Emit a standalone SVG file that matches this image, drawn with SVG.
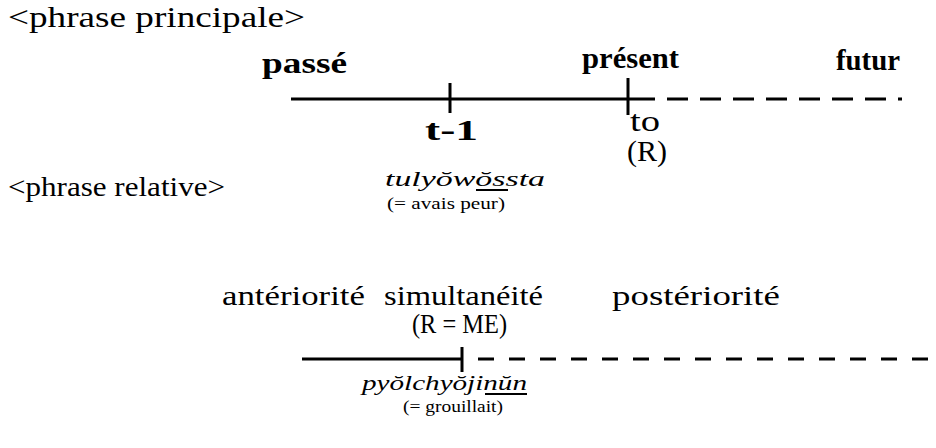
<svg xmlns="http://www.w3.org/2000/svg" width="936" height="448" viewBox="0 0 936 448">
<style>
text{font-family:'Liberation Serif','DejaVu Serif',serif;fill:#000}
.h{font-size:30px}
.hb{font-size:30px;font-weight:bold}
.m{font-size:27px}
.it{font-size:22px;font-style:italic}
.sm{font-size:16px}
.solid{stroke:#000;stroke-width:3;fill:none}
.dash1{stroke:#000;stroke-width:3;fill:none;stroke-dasharray:21 12}
.dash2{stroke:#000;stroke-width:3;fill:none;stroke-dasharray:16 15}
.tick{stroke:#000;stroke-width:3;fill:none}
.ul{stroke:#000;stroke-width:2;fill:none}
</style>
<rect width="936" height="448" fill="#fff"/>
<g id="titles">
<text id="t-principale" class="h" x="8" y="27" textLength="297" lengthAdjust="spacingAndGlyphs">&lt;phrase principale&gt;</text>
<text id="t-relative" class="m" x="8" y="196" textLength="217" lengthAdjust="spacingAndGlyphs">&lt;phrase relative&gt;</text>
</g>
<g id="connectors">
<path class="solid" d="M291 99H655"/>
<path class="dash1" d="M667 99H902"/>
<path class="tick" d="M450 83V113M628 78V115"/>
<path class="solid" d="M302 359H462"/>
<path class="dash2" d="M478 359H930"/>
<path class="tick" d="M462 347V372"/>
</g>
<g id="n-passe"><text class="hb" x="262" y="73" textLength="85" lengthAdjust="spacingAndGlyphs">passé</text></g>
<g id="n-present"><text class="hb" x="582" y="68" textLength="97" lengthAdjust="spacingAndGlyphs">présent</text></g>
<g id="n-futur"><text class="hb" x="836" y="70" textLength="64" lengthAdjust="spacingAndGlyphs">futur</text></g>
<g id="n-t1">
<text class="hb" x="425" y="140" textLength="53" lengthAdjust="spacingAndGlyphs">t-1</text>
<text class="it" x="385" y="186" textLength="160" lengthAdjust="spacingAndGlyphs">tulyŏwŏssta</text>
<path class="ul" d="M476 190H508"/>
<text class="sm" x="387" y="209" textLength="118" lengthAdjust="spacingAndGlyphs">(= avais peur)</text>
</g>
<g id="n-to">
<text class="h" font-size="25" x="630" y="131" textLength="30" lengthAdjust="spacingAndGlyphs">to</text>
<text class="h" font-size="25" x="627" y="161" textLength="40" lengthAdjust="spacingAndGlyphs">(R)</text>
</g>
<g id="n-anteriorite"><text class="m" x="222" y="305" textLength="143" lengthAdjust="spacingAndGlyphs">antériorité</text></g>
<g id="n-simultaneite">
<text class="m" x="384" y="305" textLength="159" lengthAdjust="spacingAndGlyphs">simultanéité</text>
<text class="m" x="412" y="333" textLength="95" lengthAdjust="spacingAndGlyphs">(R = ME)</text>
</g>
<g id="n-posteriorite"><text class="m" x="612" y="305" textLength="168" lengthAdjust="spacingAndGlyphs">postériorité</text></g>
<g id="n-relative-verb">
<text class="it" x="362" y="390" textLength="165" lengthAdjust="spacingAndGlyphs">pyŏlchyŏjinŭn</text>
<path class="ul" d="M485 394H527"/>
<text class="sm" x="403" y="412" textLength="100" lengthAdjust="spacingAndGlyphs">(= grouillait)</text>
</g>
</svg>
